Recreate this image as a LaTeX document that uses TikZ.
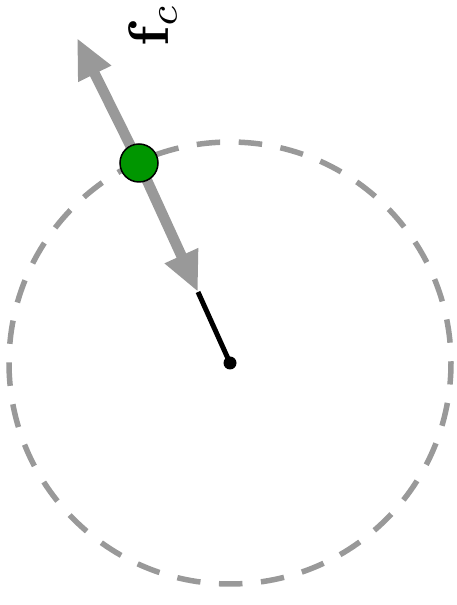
\documentclass[tikz,border=0pt]{standalone}
\usetikzlibrary{arrows.meta}
\definecolor{fgray}{RGB}{153,153,153}
\definecolor{dotgreen}{RGB}{0,150,0}
\tikzset{
  orbit/.style={draw=fgray, line width=5.5pt, dash pattern=on 23.5pt off 18.59pt, dash phase=21.75pt},
  force/.style={draw=fgray, line width=10.5pt, -{Triangle[length=40pt,width=34pt]}},
  radius line/.style={draw=black, line width=5pt},
  particle/.style={circle, draw=black, line width=1.5pt, fill=dotgreen, minimum size=38pt, inner sep=0pt},
  centre dot/.style={circle, fill=black, minimum size=13pt, inner sep=0pt}
}
\begin{document}
\begin{tikzpicture}[x=1pt,y=1pt]
\useasboundingbox (0,0) rectangle (457,605);
\coordinate (C) at (230,242);
\coordinate (D) at (139,442);
\coordinate (O) at (77,567);
\coordinate (I) at (198,313);
\draw[orbit] (C) circle[radius=221];
\draw[radius line] (I) -- (C);
\draw[force] (D) -- (O);
\draw[force] (D) -- (I);
\node[particle] (P) at (D) {};
\node[centre dot] (Cd) at (C) {};
\node[rotate=90, scale=5.7, anchor=base west, inner sep=0pt] (L) at (168,557) {$\mathbf{f}_c$};
\end{tikzpicture}
\end{document}
